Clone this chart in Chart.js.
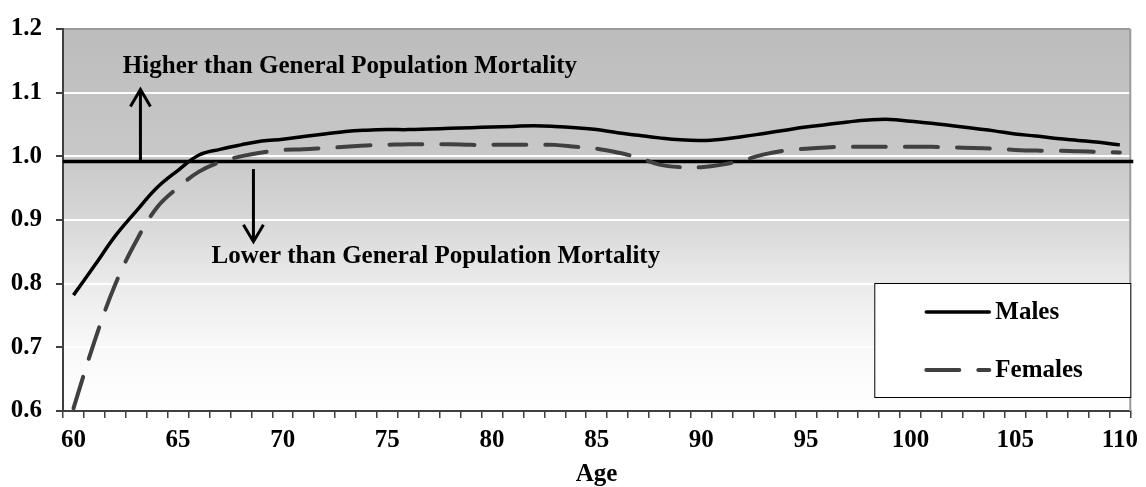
<!DOCTYPE html>
<html>
<head>
<meta charset="utf-8">
<script src="https://cdn.jsdelivr.net/npm/chart.js@4.4.1/dist/chart.umd.min.js"></script>
<style>
  body { margin: 0; background: #fff; }
</style>
</head>
<body>
<canvas id="chart" width="1146" height="487"></canvas>
<script>
// ages on the x axis (one category per year)
const ages = [60, 61, 62, 63, 64, 65, 66, 67, 68, 69, 70, 71, 72, 73, 74, 75, 76, 77, 78, 79,
              80, 81, 82, 83, 84, 85, 86, 87, 88, 89, 90, 91, 92, 93, 94, 95, 96, 97, 98, 99,
              100, 101, 102, 103, 104, 105, 106, 107, 108, 109, 110];
const xLabelAges = [60, 65, 70, 75, 80, 85, 90, 95, 100, 105, 110];

// mortality ratio vs general population
const males = [0.782, 0.828, 0.875, 0.914, 0.951, 0.978, 1.002, 1.011, 1.018, 1.024,
               1.027, 1.031, 1.035, 1.039, 1.041, 1.042, 1.042, 1.043, 1.044, 1.045,
               1.046, 1.047, 1.048, 1.047, 1.045, 1.042, 1.037, 1.033, 1.029, 1.026,
               1.025, 1.027, 1.031, 1.036, 1.041, 1.046, 1.050, 1.054, 1.057, 1.058,
               1.055, 1.052, 1.048, 1.044, 1.040, 1.035, 1.032, 1.028, 1.025, 1.022,
               1.018];
const females = [0.604, 0.709, 0.799, 0.867, 0.920, 0.951, 0.976, 0.991, 1.000, 1.006,
                 1.010, 1.011, 1.013, 1.015, 1.017, 1.018, 1.019, 1.019, 1.019, 1.018,
                 1.018, 1.018, 1.018, 1.018, 1.015, 1.012, 1.006, 0.998, 0.987, 0.983,
                 0.983, 0.987, 0.994, 1.003, 1.009, 1.012, 1.014, 1.015, 1.015, 1.015,
                 1.015, 1.015, 1.014, 1.013, 1.012, 1.010, 1.009, 1.009, 1.008, 1.007,
                 1.006];

// general population reference line and the two notes around it
const referenceLevel = 0.992;
const notes = [
  { text: 'Higher than General Population Mortality', age: 62.36, value: 1.131 },
  { text: 'Lower than General Population Mortality', age: 66.6, value: 0.832 }
];
const arrows = [
  { age: 63.2, from: 0.992, to: 1.105 },
  { age: 68.6, from: 0.980, to: 0.866 }
];

const FONT = '"Liberation Serif", "Times New Roman", serif';
const boldFont = { family: FONT, size: 25, weight: 'bold' };

function ageToPixel(chart, age) {
  return chart.scales.x.getPixelForValue(age - ages[0]);
}

const backgroundPlugin = {
  id: 'plotBackground',
  beforeDraw(chart) {
    const { ctx, chartArea: a } = chart;
    const g = ctx.createLinearGradient(0, a.top, 0, a.bottom);
    g.addColorStop(0, '#bcbcbc');
    g.addColorStop(0.33, '#c8c8c8');
    g.addColorStop(0.5, '#d7d7d7');
    g.addColorStop(0.67, '#ebebeb');
    g.addColorStop(0.83, '#f8f8f8');
    g.addColorStop(1, '#ffffff');
    ctx.save();
    ctx.fillStyle = g;
    ctx.fillRect(a.left, a.top, a.width, a.height);
    ctx.restore();
  }
};

const guidePlugin = {
  id: 'guides',
  beforeDatasetsDraw(chart) {
    const { ctx, chartArea: a, scales: { y } } = chart;
    ctx.save();

    // right border of plot
    ctx.strokeStyle = '#9a9a9a';
    ctx.lineWidth = 2;
    ctx.beginPath();
    ctx.moveTo(a.right, a.top);
    ctx.lineTo(a.right, a.bottom);
    ctx.stroke();

    // reference line
    const ry = y.getPixelForValue(referenceLevel);
    ctx.strokeStyle = '#000';
    ctx.lineWidth = 3.5;
    ctx.beginPath();
    ctx.moveTo(a.left, ry);
    ctx.lineTo(a.right + 3, ry);
    ctx.stroke();

    // arrows
    ctx.lineWidth = 3;
    ctx.lineCap = 'butt';
    arrows.forEach(arr => {
      const x = ageToPixel(chart, arr.age);
      const y0 = y.getPixelForValue(arr.from);
      const y1 = y.getPixelForValue(arr.to);
      const dir = y1 < y0 ? 1 : -1;
      ctx.beginPath();
      ctx.moveTo(x, y0);
      ctx.lineTo(x, y1);
      ctx.stroke();
      ctx.beginPath();
      ctx.moveTo(x - 10, y1 + dir * 17);
      ctx.lineTo(x, y1);
      ctx.lineTo(x + 10, y1 + dir * 17);
      ctx.stroke();
    });

    // notes
    ctx.fillStyle = '#000';
    ctx.font = 'bold 25px ' + FONT;
    ctx.textBaseline = 'alphabetic';
    ctx.textAlign = 'left';
    notes.forEach(n => {
      ctx.fillText(n.text, ageToPixel(chart, n.age), y.getPixelForValue(n.value));
    });
    ctx.restore();
  }
};

const legendPlugin = {
  id: 'boxLegend',
  afterDraw(chart) {
    const { ctx, chartArea: a } = chart;
    const right = a.right + 1, top = 283, w = 257, h = 115;
    const left = right - w;
    ctx.save();
    ctx.fillStyle = '#fff';
    ctx.fillRect(left, top, w, h);
    ctx.strokeStyle = '#000';
    ctx.lineWidth = 1;
    ctx.strokeRect(left + 0.5, top + 0.5, w - 1, h - 1);

    chart.data.datasets.forEach((ds, i) => {
      const ly = top + 29 + i * 58;
      ctx.strokeStyle = ds.borderColor;
      ctx.lineWidth = ds.borderWidth;
      ctx.lineCap = 'round';
      ctx.setLineDash(ds.borderDash || []);
      ctx.beginPath();
      ctx.moveTo(left + 52, ly);
      ctx.lineTo(left + 115, ly);
      ctx.stroke();
      ctx.setLineDash([]);
      ctx.fillStyle = '#000';
      ctx.font = 'bold 25px ' + FONT;
      ctx.textBaseline = 'middle';
      ctx.fillText(ds.label, left + 121, ly + 1);
    });
    ctx.restore();
  }
};

new Chart(document.getElementById('chart'), {
  type: 'line',
  data: {
    labels: ages,
    datasets: [
      {
        label: 'Males',
        data: males,
        borderColor: '#000000',
        borderWidth: 3.5,
        pointRadius: 0,
        tension: 0.4,
        fill: false
      },
      {
        label: 'Females',
        data: females,
        borderColor: '#404040',
        borderWidth: 4,
        borderDash: [33, 19],
        borderCapStyle: 'round',
        pointRadius: 0,
        tension: 0.4,
        fill: false
      }
    ]
  },
  options: {
    responsive: false,
    animation: false,
    layout: { padding: { top: 21, right: 12, left: 0, bottom: 0 } },
    plugins: {
      legend: { display: false },
      tooltip: { enabled: false }
    },
    scales: {
      x: {
        type: 'category',
        offset: true,
        afterFit(scale) { scale.height = 76; },
        grid: {
          offset: true,
          drawOnChartArea: false,
          color: '#404040',
          tickLength: 7,
          lineWidth: 1.5
        },
        border: { color: '#404040', width: 2 },
        ticks: {
          autoSkip: false,
          maxRotation: 0,
          padding: 8,
          color: '#000',
          font: boldFont,
          callback(val, i) {
            const a = ages[i];
            return xLabelAges.includes(a) ? String(a) : '';
          }
        },
        title: {
          display: true,
          text: 'Age',
          color: '#000',
          font: { family: FONT, size: 25, weight: 'bold', lineHeight: 1 },
          padding: { top: 0, bottom: 0 }
        }
      },
      y: {
        min: 0.6,
        max: 1.2,
        afterFit(scale) { scale.width = 63; },
        grid: {
          color(ctx) {
            const v = ctx.tick ? ctx.tick.value : 0;
            if (Math.abs(v - 1.2) < 1e-6) return '#9a9a9a';
            if (Math.abs(v - 0.6) < 1e-6) return 'rgba(0,0,0,0)';
            return '#ffffff';
          },
          tickColor: '#404040',
          tickLength: 7,
          lineWidth: 2
        },
        border: { color: '#404040', width: 2 },
        ticks: {
          stepSize: 0.1,
          padding: 14,
          color: '#000',
          font: boldFont,
          callback(v) { return Number(v).toFixed(1); }
        }
      }
    }
  },
  plugins: [backgroundPlugin, guidePlugin, legendPlugin]
});
</script>
</body>
</html>
